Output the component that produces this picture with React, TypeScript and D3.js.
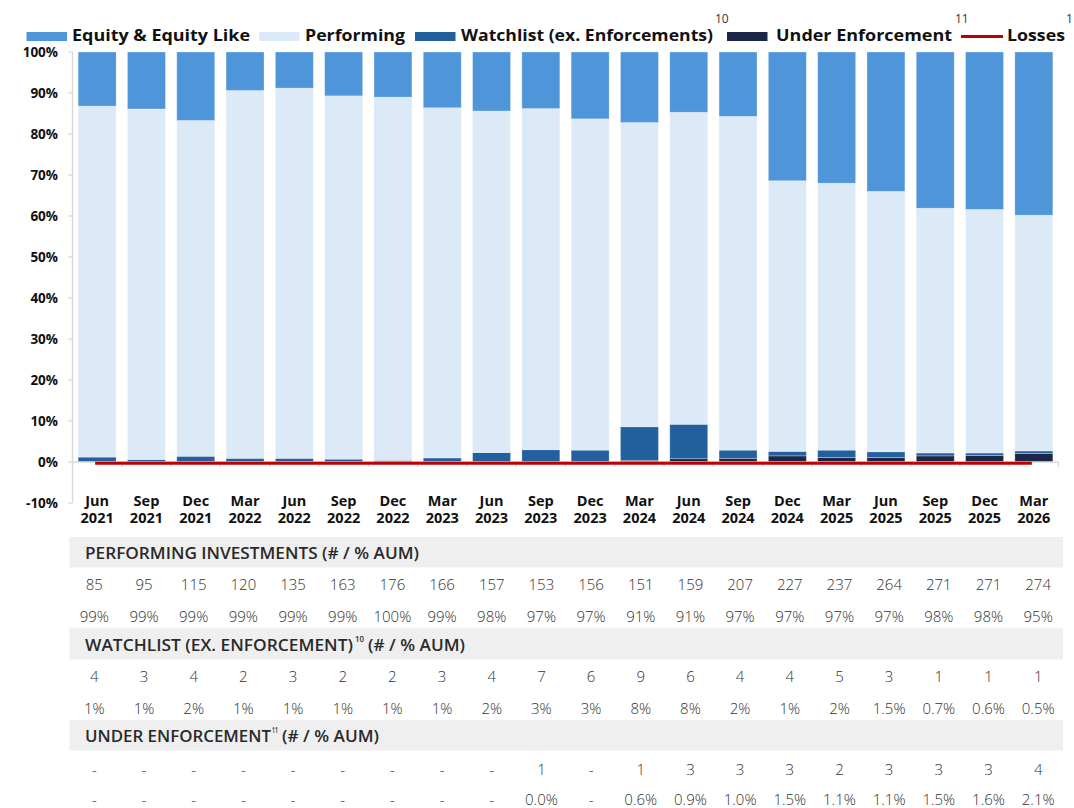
import React from "react";
import * as d3 from "d3";

const categories = ["Jun 2021","Sep 2021","Dec 2021","Mar 2022","Jun 2022","Sep 2022","Dec 2022","Mar 2023","Jun 2023","Sep 2023","Dec 2023","Mar 2024","Jun 2024","Sep 2024","Dec 2024","Mar 2025","Jun 2025","Sep 2025","Dec 2025","Mar 2026"];

// chart series (% of AUM)
const underEnforcement = [0,0,0,0,0,0,0,0,0,0,0,0.4,0.8,0.9,1.5,1.1,1.1,1.5,1.6,2.1];
const watchlist = [1.2,0.6,1.4,0.9,0.9,0.7,0.4,1.0,2.3,3.0,2.9,8.2,8.4,2.0,1.1,1.8,1.4,0.7,0.6,0.6];
const performing = [85.6,85.5,81.9,89.7,90.3,88.6,88.6,85.4,83.3,83.2,80.8,74.2,76.1,81.4,66.0,65.1,63.5,59.7,59.4,57.5];
const equity = [13.2,13.9,16.7,9.4,8.8,10.7,11.0,13.6,14.4,13.8,16.3,17.2,14.7,15.7,31.4,32.0,34.0,38.1,38.4,39.8];
const losses = [-0.3,-0.3,-0.3,-0.3,-0.3,-0.3,-0.3,-0.3,-0.3,-0.3,-0.3,-0.3,-0.3,-0.3,-0.3,-0.3,-0.3,-0.3,-0.3,-0.3];

const yTicks = [-10,0,10,20,30,40,50,60,70,80,90,100];

// table rows
const perfCount = ["85","95","115","120","135","163","176","166","157","153","156","151","159","207","227","237","264","271","271","274"];
const perfPct = ["99%","99%","99%","99%","99%","99%","100%","99%","98%","97%","97%","91%","91%","97%","97%","97%","97%","98%","98%","95%"];
const watchCount = ["4","3","4","2","3","2","2","3","4","7","6","9","6","4","4","5","3","1","1","1"];
const watchPct = ["1%","1%","2%","1%","1%","1%","1%","1%","2%","3%","3%","8%","8%","2%","1%","2%","1.5%","0.7%","0.6%","0.5%"];
const ueCount = ["-","-","-","-","-","-","-","-","-","1","-","1","3","3","3","2","3","3","3","4"];
const uePct = ["-","-","-","-","-","-","-","-","-","0.0%","-","0.6%","0.9%","1.0%","1.5%","1.1%","1.1%","1.5%","1.6%","2.1%"];

const keys = ["ue","watch","perf","equity"];
const colors: Record<string,string> = {
  ue: "#1C2649",
  watch: "#23619E",
  perf: "#DCE9F6",
  equity: "#4F95D9",
};
const lossColor = "#C00000";

const FONT = "'Open Sans', 'DejaVu Sans', sans-serif";

export default function App() {
  const W = 1074, H = 808;
  const x = d3.scaleBand<string>().domain(categories).range([72.5, 1058.5]).paddingInner(0.23).paddingOuter(0.115);
  const y = d3.scaleLinear().domain([-10, 100]).range([503, 52]);
  const tx = d3.scaleBand<string>().domain(categories).range([69.5, 1063]);

  const rows = categories.map((c, i) => ({
    cat: c,
    ue: underEnforcement[i],
    watch: watchlist[i],
    perf: performing[i],
    equity: equity[i],
  }));
  const series = d3.stack<any>().keys(keys)(rows);

  const lossLine = d3.line<number>()
    .x((_, i) => (x(categories[i]) as number) + x.bandwidth() / 2 - 2)
    .y((v) => y(v))(losses) as string;

  const step = x.step();
  const x0 = x.range()[0];
  const y0 = y(0);

  const headerBands = [
    { y: 537, parts: [{ t: "PERFORMING INVESTMENTS (# / % AUM)", x: 85, w: 334 }] },
    { y: 629, parts: [{ t: "WATCHLIST (EX. ENFORCEMENT)", x: 85, w: 268 }, { t: "10", x: 355, w: 9, sup: true }, { t: "(# / % AUM)", x: 368, w: 97 }] },
    { y: 720, parts: [{ t: "UNDER ENFORCEMENT", x: 85, w: 186 }, { t: "11", x: 272, w: 6, sup: true }, { t: "(# / % AUM)", x: 282, w: 97 }] },
  ];
  const valueRows = [
    { y: 585, vals: perfCount },
    { y: 617, vals: perfPct },
    { y: 677, vals: watchCount },
    { y: 709, vals: watchPct },
    { y: 770, vals: ueCount },
    { y: 800, vals: uePct },
  ];

  const legendItems = [
    { key: "equity", label: "Equity & Equity Like", sx: 26.5, tx: 72, tw: 178 },
    { key: "perf", label: "Performing", sx: 259, tx: 305, tw: 100 },
    { key: "watch", label: "Watchlist (ex. Enforcements)", sx: 415, tx: 461, tw: 252, sup: "10", supX: 715 },
    { key: "ue", label: "Under Enforcement", sx: 727, tx: 776, tw: 176, sup: "11", supX: 955 },
    { key: "loss", label: "Losses", sx: 961, tx: 1007, tw: 58, sup: "1", supX: 1066 },
  ];

  return (
    <svg width={W} height={H} style={{ position: "absolute", left: 0, top: 0, background: "#fff" }} fontFamily={FONT}>
      {/* legend */}
      {legendItems.map((it) => (
        <g key={it.key}>
          {it.key === "loss" ? (
            <line x1={it.sx} x2={it.sx + 42} y1={36.5} y2={36.5} stroke={lossColor} strokeWidth={3} />
          ) : (
            <rect x={it.sx} y={32} width={40.5} height={9} fill={colors[it.key]} />
          )}
          <text x={it.tx} y={41} fontSize={16.5} fontWeight={700} fill="#111" textLength={it.tw} lengthAdjust="spacingAndGlyphs">{it.label}</text>
          {it.sup && (
            <text x={it.supX} y={23} fontSize={12} fill="#333" fontWeight={400}>{it.sup}</text>
          )}
        </g>
      ))}

      {/* bars */}
      {series.map((s) => (
        <g key={s.key} fill={colors[s.key]}>
          {s.map((d, i) => {
            const h = y(d[0]) - y(d[1]);
            if (h <= 0) return null;
            return (
              <rect key={i} x={x(categories[i])} y={y(d[1])} width={x.bandwidth()} height={h}
                stroke="#ffffff" strokeOpacity={0.35} strokeWidth={0.8} />
            );
          })}
        </g>
      ))}

      {/* y axis */}
      <line x1={72.5} x2={72.5} y1={y(100)} y2={y(-10)} stroke="#D9D9D9" strokeWidth={1.5} />
      {yTicks.map((t) => (
        <g key={t}>
          <line x1={68} x2={72.5} y1={y(t)} y2={y(t)} stroke="#D9D9D9" strokeWidth={1.2} />
          <text x={58} y={y(t)} dy="0.35em" textAnchor="end" fontSize={13.5} fontWeight={700} fill="#111">{t}%</text>
        </g>
      ))}

      {/* x axis */}
      <line x1={x0} x2={x.range()[1]} y1={y0} y2={y0} stroke="#D9D9D9" strokeWidth={1.5} />
      {categories.map((c, i) => (
        <line key={"t" + i} x1={x0 + step * (i + 1)} x2={x0 + step * (i + 1)} y1={y0} y2={y0 + 5} stroke="#D9D9D9" strokeWidth={1.2} />
      ))}
      {categories.map((c) => {
        const [m, yr] = c.split(" ");
        const cx = (x(c) as number) + x.bandwidth() / 2;
        return (
          <text key={c} x={cx} textAnchor="middle" fontSize={14.5} fontWeight={700} fill="#111">
            <tspan x={cx} y={506}>{m}</tspan>
            <tspan x={cx} y={523}>{yr}</tspan>
          </text>
        );
      })}

      {/* losses line */}
      <path d={lossLine} fill="none" stroke={lossColor} strokeWidth={3} />

      {/* table */}
      {headerBands.map((hb, k) => (
        <g key={"hb" + k}>
          <rect x={tx.range()[0]} y={hb.y} width={tx.range()[1] - tx.range()[0]} height={30.5} fill="#EFEFEF" />
          {hb.parts.map((p, j) => (
            <text key={j} x={p.x} y={p.sup ? hb.y + 13 : hb.y + 21.5} fontSize={p.sup ? 8 : 15.5} fontWeight={600} fill="#2a2a2a"
              textLength={p.w} lengthAdjust="spacingAndGlyphs">{p.t}</text>
          ))}
        </g>
      ))}
      {valueRows.map((r, k) => (
        <g key={"vr" + k}>
          {r.vals.map((v, i) => (
            <text key={i} x={(tx(categories[i]) as number) + tx.bandwidth() / 2} y={r.y} dy="0.35em" textAnchor="middle"
              fontSize={15} fontWeight={300} fill="#333">{v}</text>
          ))}
        </g>
      ))}
      <line x1={tx.range()[0]} x2={tx.range()[1]} y1={628} y2={628} stroke="#F2F2F2" strokeWidth={1} />
    </svg>
  );
}
